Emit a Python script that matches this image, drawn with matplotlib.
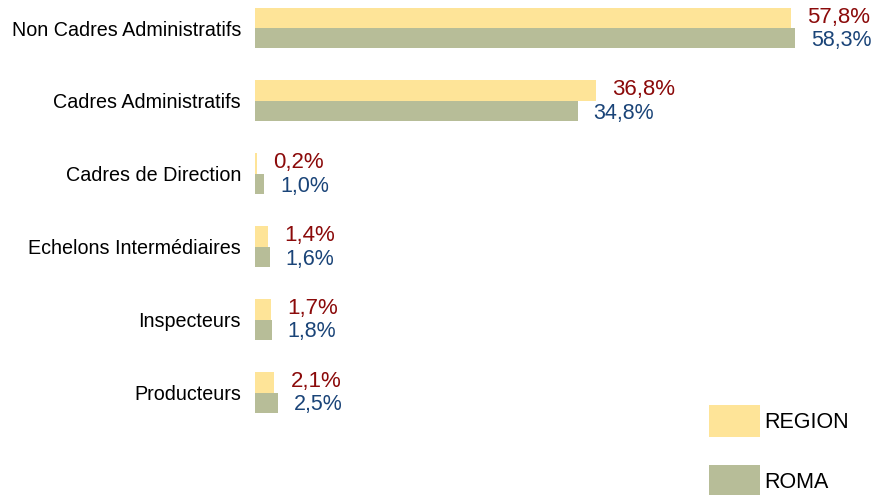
import matplotlib.pyplot as plt
import numpy as np

plt.rcParams['font.family'] = ['Liberation Sans', 'DejaVu Sans']

categories = ["Non Cadres Administratifs", "Cadres Administratifs", "Cadres de Direction",
              "Echelons Intermédiaires", "Inspecteurs", "Producteurs"]
region = [57.8, 36.8, 0.2, 1.4, 1.7, 2.1]
roma = [58.3, 34.8, 1.0, 1.6, 1.8, 2.5]

col_region = '#FEE498'
col_roma = '#B7BD98'
txt_region = '#8B0A0A'
txt_roma = '#1A4478'

W, H = 878, 495
fig = plt.figure(figsize=(W / 100, H / 100), dpi=100)
left, right = 255, 867
ax = fig.add_axes([left / W, 0, (right - left) / W, 1])

# pixel layout: first category centre at y=28, spacing ~72.9 px
step = 72.9
ax.set_ylim((H - 28) / step, -28 / step)
xmax = (right - left) / 9.27
ax.set_xlim(0, xmax)

y = np.arange(len(categories))
h = 20.5 / step
ax.barh(y - h / 2, region, height=h, color=col_region, label='REGION')
ax.barh(y + h / 2, roma, height=h, color=col_roma, label='ROMA')

px = xmax / (right - left)
for i in range(len(categories)):
    ax.text(region[i] + 16 * px, y[i] - 0.15, f"{region[i]:.1f}%".replace('.', ','),
            color=txt_region, fontsize=16, va='center', ha='left')
    ax.text(roma[i] + 16 * px, y[i] + 0.17, f"{roma[i]:.1f}%".replace('.', ','),
            color=txt_roma, fontsize=15.5, va='center', ha='left')

ax.set_yticks(y)
ax.set_yticklabels(categories, fontsize=14.25)
ax.tick_params(axis='y', length=0, pad=10)
ax.set_xticks([])
for s in ax.spines.values():
    s.set_visible(False)

fig.legend(loc='upper left', bbox_to_anchor=(709 / W, 1 - 405 / H), frameon=False,
           fontsize=15.5, handlelength=2.35, handleheight=1.9, labelspacing=1.3,
           handletextpad=0.2, borderpad=0, borderaxespad=0)

fig.savefig('out.png', dpi=100)
